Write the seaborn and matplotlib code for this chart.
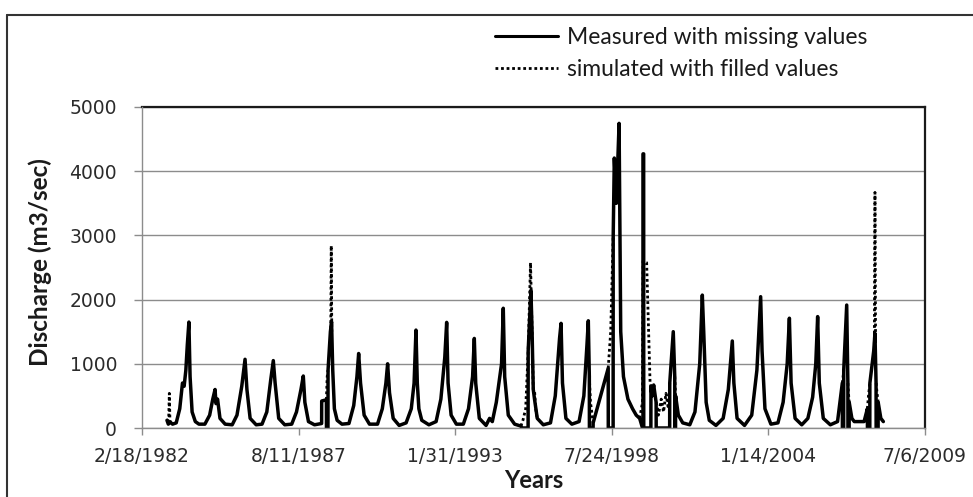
import matplotlib
matplotlib.use("Agg")
import matplotlib.pyplot as plt
from matplotlib.lines import Line2D
import seaborn as sns
import pandas as pd

# ---------------- data ----------------
tick_dates = ["1982-02-18", "1987-08-11", "1993-01-31", "1998-07-24", "2004-01-14", "2009-07-06"]
tick_labels = ["2/18/1982", "8/11/1987", "1/31/1993", "7/24/1998", "1/14/2004", "7/6/2009"]
y_ticks = [0, 1000, 2000, 3000, 4000, 5000]
series_names = ["Measured with missing values", "simulated with filled values"]

meas_dates = [
    "1983-01-03", "1983-01-20", "1983-02-15", "1983-03-15", "1983-05-01", "1983-06-15", "1983-07-20",
    "1983-08-10", "1983-09-01", "1983-09-20", "1983-10-10", "1983-10-25", "1983-11-20", "1983-12-31",
    "1984-02-15", "1984-05-01", "1984-07-01", "1984-08-10", "1984-09-08", "1984-09-20", "1984-10-10", "1984-11-10",
    "1985-01-15", "1985-04-15", "1985-06-15", "1985-08-15", "1985-09-26", "1985-10-20", "1985-11-30",
    "1986-02-15", "1986-05-01", "1986-07-01", "1986-08-20", "1986-09-22", "1986-10-15", "1986-11-30",
    "1987-02-15", "1987-05-15", "1987-07-15", "1987-09-10", "1987-10-10", "1987-10-30", "1987-12-15",
    "1988-03-01", "1988-05-31", "1988-06-01", "1988-07-31", "1988-08-01", "1988-08-20", "1988-08-21",
    "1988-09-20", "1988-10-05", "1988-10-20", "1988-11-10", "1988-12-15",
    "1989-02-15", "1989-05-15", "1989-07-15", "1989-08-25", "1989-09-16", "1989-10-10", "1989-11-25",
    "1990-02-01", "1990-05-15", "1990-07-15", "1990-08-30", "1990-09-21", "1990-10-15", "1990-12-01",
    "1991-02-15", "1991-05-15", "1991-07-20", "1991-08-25", "1991-09-18", "1991-10-05", "1991-10-25", "1991-12-01",
    "1992-03-01", "1992-06-01", "1992-08-01", "1992-09-20", "1992-10-14", "1992-11-01", "1992-12-10",
    "1993-02-15", "1993-05-15", "1993-07-20", "1993-09-10", "1993-10-02", "1993-10-20", "1993-12-05",
    "1994-03-01", "1994-04-15", "1994-05-20", "1994-07-10", "1994-09-15", "1994-10-07", "1994-10-25", "1994-12-10",
    "1995-03-01", "1995-05-20", "1995-06-01", "1995-08-20", "1995-08-21", "1995-09-25", "1995-10-10",
    "1995-10-25", "1995-11-10", "1995-12-15",
    "1996-03-01", "1996-06-01", "1996-08-01", "1996-09-25", "1996-10-14", "1996-11-01", "1996-12-15",
    "1997-03-01", "1997-06-01", "1997-08-01", "1997-09-10", "1997-09-27", "1997-10-10", "1997-10-11",
    "1997-11-27", "1997-11-28",
    "1998-06-08", "1998-06-09", "1998-08-10", "1998-08-11", "1998-08-25", "1998-09-20", "1998-10-25",
    "1998-11-15", "1998-12-20",
    "1999-02-15", "1999-04-15", "1999-06-01", "1999-07-15", "1999-08-20", "1999-08-26", "1999-08-27",
    "1999-09-04", "1999-09-05", "1999-12-05", "1999-12-06", "1999-12-20",
    "2000-01-10", "2000-02-10", "2000-02-11", "2000-08-01", "2000-08-02", "2000-09-16", "2000-10-05",
    "2000-10-06", "2000-10-15", "2000-10-16", "2000-11-20",
    "2001-01-15", "2001-04-15", "2001-06-20", "2001-08-20", "2001-09-22", "2001-10-10", "2001-11-10", "2001-12-20",
    "2002-03-15", "2002-06-15", "2002-08-20", "2002-10-10", "2002-10-30", "2002-12-10",
    "2003-03-15", "2003-06-15", "2003-08-20", "2003-10-07", "2003-10-25", "2003-12-01",
    "2004-02-15", "2004-05-15", "2004-07-20", "2004-09-10", "2004-10-08", "2004-10-30", "2004-12-20",
    "2005-03-15", "2005-06-01", "2005-08-01", "2005-09-10", "2005-10-04", "2005-10-25", "2005-12-15",
    "2006-03-15", "2006-06-15", "2006-08-15", "2006-08-16", "2006-09-01", "2006-09-02", "2006-10-10",
    "2006-10-25", "2006-10-26", "2006-11-10", "2006-11-11", "2006-12-15",
    "2007-01-15", "2007-05-20", "2007-07-01", "2007-07-02", "2007-08-01", "2007-08-02", "2007-09-20",
    "2007-10-06", "2007-10-20", "2007-10-21", "2007-11-15", "2007-11-16", "2007-12-20", "2008-01-21",
]
meas_q = [
    120, 60, 90, 60, 80, 300, 700,
    650, 900, 1300, 1650, 800, 250, 100,
    60, 60, 200, 450, 600, 380, 450, 150,
    60, 50, 200, 650, 1070, 600, 150,
    50, 60, 250, 750, 1050, 700, 150,
    50, 60, 250, 600, 810, 400, 100,
    50, 70, 420, 440, 0, 0, 900,
    1500, 1655, 900, 300, 120,
    60, 70, 350, 800, 1160, 700, 200,
    60, 60, 300, 700, 1000, 550, 150,
    40, 80, 300, 700, 1525, 700, 300, 120,
    50, 100, 450, 1100, 1645, 700, 200,
    60, 60, 300, 800, 1395, 700, 150,
    40, 150, 100, 400, 1000, 1865, 800, 200,
    60, 30, 0, 0, 1200, 2140, 1500,
    600, 450, 150,
    50, 80, 500, 1400, 1630, 700, 150,
    60, 100, 500, 1300, 1670, 800, 0,
    0, 80,
    930, 0, 0, 3000, 4205, 3500, 4745,
    1500, 800,
    450, 300, 200, 150, 0, 0, 4270,
    4270, 0, 0, 650, 500,
    670, 400, 0, 0, 700, 1500, 800,
    0, 0, 500, 200,
    80, 50, 250, 1000, 2070, 1500, 400, 120,
    40, 150, 600, 1355, 700, 150,
    40, 200, 900, 2045, 1200, 300,
    60, 80, 400, 1000, 1710, 700, 150,
    50, 150, 480, 1000, 1735, 700, 150,
    50, 100, 700, 0, 0, 900, 1915,
    700, 0, 0, 400, 150,
    100, 100, 300, 0, 0, 700, 1200,
    1475, 700, 0, 0, 400, 150, 100,
]

# simulated values, given where they depart from the measured record
sim_seg = [1, 1, 1, 1, 1,
           2, 2, 2,
           3, 3, 3,
           4, 4, 4, 4, 4, 4, 4, 4, 4, 4,
           5, 5, 5,
           6, 6, 6,
           7, 7, 7, 7, 7, 7,
           8, 8, 8, 8, 8, 8, 8,
           9, 9, 9,
           10, 10, 10,
           11, 11, 11,
           12, 12, 12,
           13, 13, 13,
           14, 14, 14]
sim_dates = [
    "1983-01-03", "1983-01-25", "1983-02-02", "1983-02-10", "1983-03-15",
    "1988-07-31", "1988-08-10", "1988-08-21",
    "1988-09-25", "1988-10-01", "1988-10-08",
    "1995-05-20", "1995-06-15", "1995-07-20", "1995-08-21", "1995-09-20", "1995-10-10", "1995-10-25",
    "1995-11-10", "1995-11-25", "1995-12-15",
    "1997-10-10", "1997-10-25", "1997-11-28",
    "1998-06-08", "1998-07-10", "1998-08-11",
    "1999-07-15", "1999-08-20", "1999-08-27", "1999-10-12", "1999-11-25", "1999-12-06",
    "2000-02-10", "2000-03-10", "2000-04-15", "2000-05-15", "2000-06-15", "2000-07-15", "2000-08-02",
    "2000-10-05", "2000-10-10", "2000-10-16",
    "2006-08-15", "2006-08-25", "2006-09-02",
    "2006-10-25", "2006-11-01", "2006-11-11",
    "2007-07-01", "2007-07-15", "2007-08-02",
    "2007-09-28", "2007-10-06", "2007-10-14",
    "2007-10-21", "2007-11-01", "2007-11-16",
]
sim_q = [
    100, 150, 540, 100, 60,
    440, 800, 900,
    1550, 2840, 1500,
    30, 120, 300, 1200, 2575, 1500, 600, 590, 300, 150,
    800, 400, 80,
    930, 1500, 3000,
    150, 400, 2600, 2575, 700, 650,
    400, 200, 450, 250, 540, 300, 700,
    800, 650, 500,
    700, 800, 900,
    700, 550, 400,
    300, 500, 700,
    1300, 3670, 1300,
    700, 550, 400,
]

# ---------------- figure ----------------
sns.set_theme(style="white")
plt.rcParams["font.family"] = ["DejaVu Sans"]

W, H = 973, 497
fig = plt.figure(figsize=(W / 100, H / 100), dpi=100)
fig.patch.set_facecolor("white")
ax = fig.add_axes([142 / W, 1 - 428 / H, 783 / W, 321 / H])

meas_df = pd.DataFrame({"date": pd.to_datetime(meas_dates), "q": meas_q})
sim_df = pd.DataFrame({"date": pd.to_datetime(sim_dates), "q": sim_q, "seg": sim_seg})

sns.lineplot(data=meas_df, x="date", y="q", ax=ax, color="black", linewidth=2.5,
             estimator=None, sort=False, legend=False, zorder=3)
sns.lineplot(data=sim_df, x="date", y="q", units="seg", estimator=None, ax=ax, color="black",
             linewidth=2.0, linestyle=(0, (1, 1)), sort=False, legend=False, zorder=4)

grey = "#8c8c8c"
ax.set_ylim(0, 5000)
ax.set_yticks(y_ticks)
ax.set_yticklabels([str(v) for v in y_ticks])
tick_pos = pd.to_datetime(tick_dates)
ax.set_xlim(tick_pos[0], tick_pos[-1])
ax.set_xticks(tick_pos)
ax.set_xticklabels(tick_labels)

ax.grid(axis="y", color=grey, linewidth=1.0)
ax.grid(axis="x", visible=False)
ax.set_axisbelow(True)

for s in ["top", "right"]:
    ax.spines[s].set_color("#1a1a1a")
    ax.spines[s].set_linewidth(1.6)
for s in ["left", "bottom"]:
    ax.spines[s].set_color(grey)
    ax.spines[s].set_linewidth(1.0)
    ax.spines[s].set_zorder(5)

ax.tick_params(axis="both", which="major", direction="out", color=grey, width=1.0,
               labelsize=13.5, labelcolor="#2b2b2b")
ax.tick_params(axis="y", length=6, pad=12, left=True)
ax.tick_params(axis="x", length=5, pad=9, bottom=True)

ax.set_xlabel("Years", fontsize=17, fontweight="bold", family=["Lato", "DejaVu Sans"], color="#1a1a1a")
ax.set_ylabel("Discharge (m3/sec)", fontsize=17.5, fontweight="bold", family=["Lato", "DejaVu Sans"],
              color="#1a1a1a")
ax.xaxis.set_label_coords(0.5, -(481 - 428) / 321)
ax.xaxis.label.set_va("center")
ax.yaxis.set_label_coords((40 - 142) / 783, (428 - 262) / 321)
ax.yaxis.label.set_va("center")

handles = [Line2D([], [], color="black", linewidth=2.2),
           Line2D([], [], color="black", linewidth=2.0, linestyle=(0, (1, 1)))]
fig.legend(handles, series_names, loc="upper left", bbox_to_anchor=(495 / W, 1 - 27 / H),
           frameon=False, borderpad=0, borderaxespad=0, handlelength=2.75, handletextpad=0.4,
           labelspacing=0.5, prop={"family": ["Lato", "DejaVu Sans"], "size": 16.5},
           labelcolor="#1a1a1a")

# outer frame of the screenshot (left and top edges)
fig.add_artist(Line2D([7 / W, 7 / W], [0, 1 - 15 / H], color="#333333", linewidth=1.5,
                      transform=fig.transFigure))
fig.add_artist(Line2D([7 / W, 1], [1 - 15 / H, 1 - 15 / H], color="#333333", linewidth=1.5,
                      transform=fig.transFigure))

fig.savefig("out.png", dpi=100)
